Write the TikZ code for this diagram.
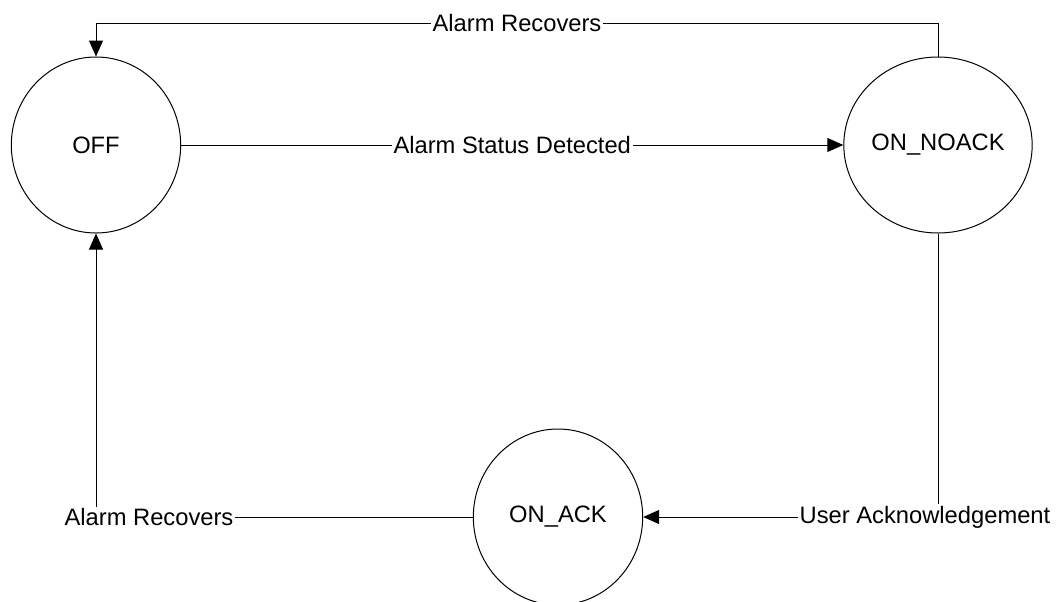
\documentclass[tikz,border=0pt]{standalone}
\usepackage{fontspec}
\setmainfont{Liberation Sans}
\usetikzlibrary{shapes.geometric,arrows.meta}
\begin{document}
\begin{tikzpicture}[x=0.75pt,y=-0.75pt,
  txt/.style={font=\fontsize{17.8}{21}\selectfont},
  state/.style={ellipse,draw,line width=0.75pt,minimum width=127pt,minimum height=132pt,inner sep=0pt,txt},
  lbl/.style={fill=white,inner sep=1.2pt,txt},
  conn/.style={line width=0.75pt,-{Triangle[length=12pt,width=10.5pt]}}]
\useasboundingbox (0,0) rectangle (1058,601);
\node[state] (off) at (96,145) {OFF};
\node[state] (noack) at (938,145) {ON\_NOACK};
\node[state] (ack) at (558,517) {ON\_ACK};
\coordinate (tr) at (938,23);
\coordinate (tl) at (96,23);
\draw[conn] (noack.north) -- (tr) -- node[lbl] (l1) {Alarm Recovers} (tl) -- (off.north);
\draw[conn] (off.east) -- node[lbl] (l2) {Alarm Status Detected} (noack.west);
\draw[conn] (noack.south) |- (ack.east);
\draw[conn] (ack.west) -| (off.south);
\node[lbl] (l3) at (925,517) {User Acknowledgement};
\node[lbl] (l4) at (149,517) {Alarm Recovers};
\end{tikzpicture}
\end{document}
